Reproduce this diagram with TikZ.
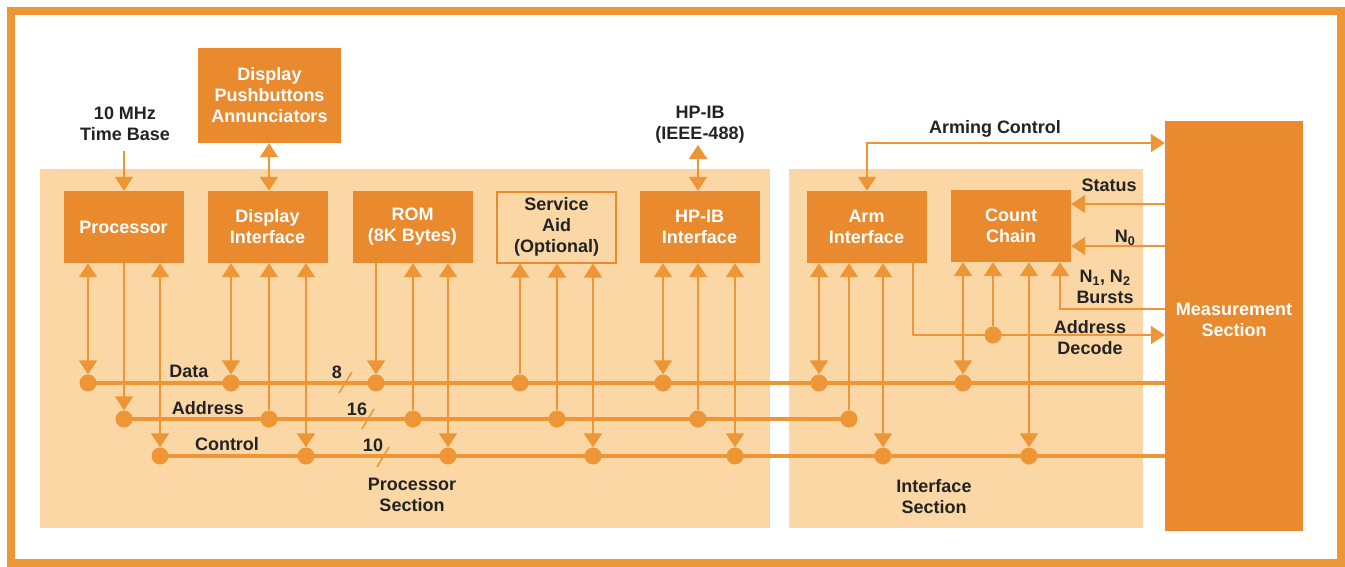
\documentclass[tikz,border=0pt]{standalone}
\usepackage{fontspec}
\setmainfont{Liberation Sans}
\usetikzlibrary{arrows.meta}
\definecolor{boxor}{RGB}{233,138,47}
\definecolor{lineor}{RGB}{238,149,54}
\definecolor{secbg}{RGB}{250,215,165}
\definecolor{txt}{RGB}{35,35,35}
\tikzset{tri/.tip={Triangle[length=14pt,width=18pt]}}
\begin{document}
\begin{tikzpicture}[x=1pt,y=-1pt,
  every node/.style={font=\bfseries\fontsize{18}{21}\selectfont, inner sep=0pt},
  blk/.style={fill=boxor, text=white, minimum width=120pt, minimum height=72pt, align=center},
  oblk/.style={draw=boxor, line width=2pt, text=txt, minimum width=119pt, minimum height=71pt, align=center},
  lbl/.style={text=txt, align=center},
  wlbl/.style={text=white, align=center},
  dot/.style={circle, fill=lineor, minimum size=17pt},
  wire/.style={draw=lineor, line width=2pt},
  bus/.style={draw=lineor, line width=4pt},
  sec/.style={fill=secbg}]
\useasboundingbox (0,0) rectangle (1345,566);
\fill[white] (0,0) rectangle (1345,566);
\draw[lineor, line width=8pt] (11,11) rectangle (1341,563);
% sections
\fill[sec] (40,169) rectangle (770,528);
\fill[sec] (789,169) rectangle (1143,528);
% blocks
\node[blk] (proc) at (123.5,227) {Processor};
\node[blk] (di) at (267.5,227) {Display\\Interface};
\node[blk] (rom) at (412.5,227) {ROM\\(8K Bytes)};
\node[oblk] (sa) at (556.5,227) {Service\\Aid\\(Optional)};
\node[blk] (hpib) at (699.5,227) {HP-IB\\Interface};
\node[blk] (arm) at (866.5,227) {Arm\\Interface};
\node[blk] (cc) at (1011,226) {Count\\Chain};
\node[blk, minimum width=143pt, minimum height=95pt] (dpa) at (269.5,95.5) {Display\\Pushbuttons\\Annunciators};
\node[blk, minimum width=138pt, minimum height=410pt] (ms) at (1234,326) {};
\node[wlbl] (mslbl) at (1234,319.5) {Measurement\\Section};
% dots: data, address, control
\foreach \n/\x in {d1/88,d2/231,d3/376,d4/520,d5/663,d6/819,d7/963}
  \node[dot] (\n) at (\x,383) {};
\foreach \n/\x in {a1/124,a2/269,a3/413,a4/557,a5/698,a6/849}
  \node[dot] (\n) at (\x,419) {};
\foreach \n/\x in {c1/160,c2/306,c3/448,c4/593,c5/735,c6/883,c7/1029}
  \node[dot] (\n) at (\x,456) {};
\node[dot] (ad) at (993,335) {};
% buses
\draw[bus] (d1.center) -- (ms.west |- d1);
\draw[bus] (a1.center) -- (a6.center);
\draw[bus] (c1.center) -- (ms.west |- c1);
% bus width slashes
\draw[lineor, line width=1.5pt] (339,393) -- (352,372);
\draw[lineor, line width=1.5pt] (362,429) -- (374,409);
\draw[lineor, line width=1.5pt] (377,467) -- (389,447);
% connectors: bidirectional
\foreach \b/\n in {proc/d1,proc/c1,di/d2,di/c2,rom/c3,sa/c4,hpib/d5,hpib/c5,arm/d6,arm/c6,cc/d7,cc/c7}
  \draw[wire, tri-tri] (\b.south -| \n) -- (\n);
% block to bus
\foreach \b/\n in {proc/a1,rom/d3}
  \draw[wire, -tri] (\b.south -| \n) -- (\n);
% bus to block
\foreach \b/\n in {di/a2,rom/a3,sa/d4,sa/a4,hpib/a5,arm/a6,cc/ad}
  \draw[wire, -tri] (\n) -- (\b.south -| \n);
% address decode
\coordinate (adc) at (913,335);
\draw[wire, -tri] (arm.south -| adc) -- (adc) -- (ms.west |- adc);
% bursts
\coordinate (bc) at (1060,309);
\draw[wire, -tri] (ms.west |- bc) -- (bc) -- (cc.south -| bc);
% status and N0
\coordinate (stc) at (1100,204);
\coordinate (n0c) at (1100,246);
\draw[wire, -tri] (ms.west |- stc) -- (cc.east |- stc);
\draw[wire, -tri] (ms.west |- n0c) -- (cc.east |- n0c);
% arming control
\coordinate (acc) at (867,143);
\draw[wire, tri-tri] (arm.north -| acc) -- (acc) -- (ms.west |- acc);
% top inputs
\node[lbl] (tb) at (125,123.5) {10 MHz\\Time Base};
\draw[wire, -tri] (124,151) -- (proc.north -| 124,0);
\draw[wire, tri-tri] (dpa.south -| 269,0) -- (di.north -| 269,0);
\node[lbl] (hp) at (700,124.5) {HP-IB\\(IEEE-488)};
\coordinate (hpc) at (698,145);
\draw[wire, tri-tri] (hpc) -- (hpib.north -| hpc);
% labels
\node[lbl] (ldata) at (189,371) {Data};
\node[lbl] (laddr) at (208,408) {Address};
\node[lbl] (lctrl) at (227,444) {Control};
\node[lbl] (l8) at (337,372) {8};
\node[lbl] (l16) at (357,409) {16};
\node[lbl] (l10) at (373,445) {10};
\node[lbl] (lps) at (412,495) {Processor\\Section};
\node[lbl] (lis) at (934,496.5) {Interface\\Section};
\node[lbl] (lac) at (995,129) {Arming Control};
\node[lbl] (lst) at (1109,185) {Status};
\node[lbl] (ln0) at (1125,238) {N\textsubscript{0}};
\node[lbl] (lbu) at (1105,287) {N\textsubscript{1}, N\textsubscript{2}\\Bursts};
\node[lbl] (lad) at (1090,338) {Address\\Decode};
\end{tikzpicture}
\end{document}
